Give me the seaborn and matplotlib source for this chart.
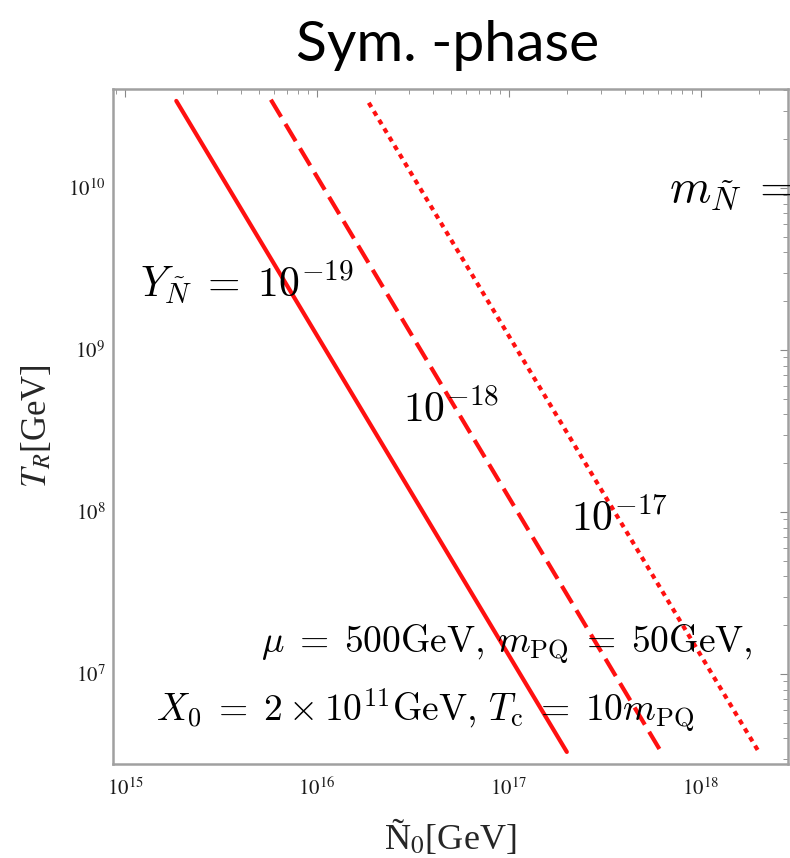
import numpy as np
import pandas as pd
import seaborn as sns
import matplotlib.pyplot as plt

# ------------------------------
# Data (straight lines in log-log space)
# ------------------------------
solid_N0 = [1.85e15, 2.0e17]
solid_TR = [3.44e10, 3.3e6]
dashed_N0 = [5.75e15, 6.2e17]
dashed_TR = [3.5e10, 3.3e6]
dotted_N0 = [1.86e16, 2.0e18]
dotted_TR = [3.35e10, 3.3e6]

x_ticks = [1e15, 1e16, 1e17, 1e18]
x_ticklabels = ["$10^{15}$", "$10^{16}$", "$10^{17}$", "$10^{18}$"]
y_ticks = [1e7, 1e8, 1e9, 1e10]
y_ticklabels = ["$10^{7}$", "$10^{8}$", "$10^{9}$", "$10^{10}$"]

sns.set_style("white")
plt.rcParams["font.family"] = ["Liberation Serif", "DejaVu Serif"]
plt.rcParams["mathtext.fontset"] = "stix"

fig = plt.figure(figsize=(7.9, 8.58), dpi=100)
ax = fig.add_axes([113 / 790, (858 - 764) / 858, 675 / 790, 675 / 858])
ax.set_xscale("log")
ax.set_yscale("log")

lines = [
    (solid_N0, solid_TR, "-"),
    (dashed_N0, dashed_TR, (0, (4.8, 2.0))),
    (dotted_N0, dotted_TR, (0, (1.2, 1.2))),
]
for n0, tr, ls in lines:
    sns.lineplot(x=n0, y=tr, ax=ax, color="#ff1010", linewidth=3.0,
                 linestyle=ls, sort=False)

ax.set_xlim(10 ** 14.9375, 10 ** 18.453)
ax.set_ylim(10 ** 6.444, 10 ** 10.61)

ax.set_xticks(x_ticks)
ax.set_xticklabels(x_ticklabels)
ax.set_yticks(y_ticks)
ax.set_yticklabels(y_ticklabels)
ax.tick_params(which="both", direction="in", top=True, right=True,
               color="#888888", labelsize=15, labelcolor="#1a1a1a")
ax.tick_params(which="major", length=6, width=0.8)
ax.tick_params(which="minor", length=3.5, width=0.6)
ax.tick_params(axis="x", pad=10)
ax.tick_params(axis="y", pad=5.5)
for sp in ax.spines.values():
    sp.set_color("#a0a0a0")
    sp.set_linewidth(1.8)

ax.set_xlabel("Ñ$_0$[GeV]", fontsize=26)
ax.set_ylabel("$T_R$[GeV]", fontsize=25)
ax.xaxis.set_label_coords(0.5, -0.080)
ax.yaxis.set_label_coords(-0.088, 0.5)

big = dict(math_fontfamily="cm", fontsize=30, color="black")
small = dict(math_fontfamily="cm", fontsize=27, color="black")
ax.text(1.2e15, 2.6e9, r"$Y_{\tilde{N}} \;=\; 10^{-19}$", ha="left", va="center", **big)
ax.text(2.8e16, 4.2e8, r"$10^{-18}$", ha="left", va="center", **big)
ax.text(2.1e17, 8.9e7, r"$10^{-17}$", ha="left", va="center", **big)
ax.text(5.1e15, 1.53e7,
        r"$\mu \;=\; 500\mathrm{GeV},\, m_{\mathrm{PQ}} \;=\; 50\mathrm{GeV},$",
        ha="left", va="center", **small)
ax.text(1.45e15, 5.9e6,
        r"$X_0 \;=\; 2 \times 10^{11}\mathrm{GeV},\, T_{\mathrm{c}} \;=\; 10 m_{\mathrm{PQ}}$",
        ha="left", va="center", **small)
ax.text(6.8e17, 10 ** 9.98, r"$m_{\tilde{N}} \;=$", ha="left", va="center",
        clip_on=False, math_fontfamily="cm", fontsize=34, color="black")

fig.text(0.566, 0.947, "Sym. -phase", ha="center", va="center", fontsize=41,
         family=["Lato", "DejaVu Sans"], color="black")

fig.savefig("out.png", dpi=100)
plt.close(fig)
